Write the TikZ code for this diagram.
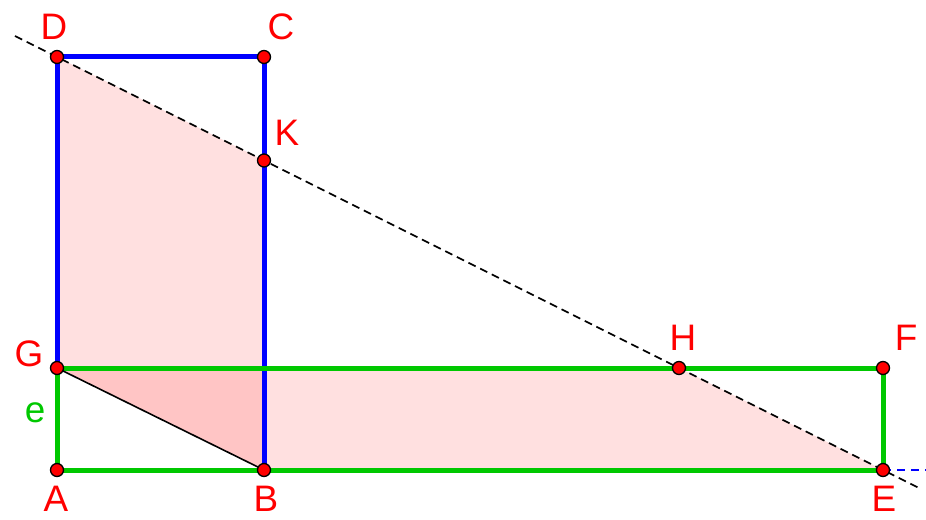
\documentclass[tikz,border=0pt]{standalone}
\usepackage{fontspec}
\setmainfont{Liberation Sans}
\begin{document}
\begin{tikzpicture}[x=1bp,y=-1bp,
  blueseg/.style={draw={rgb,255:red,0;green,0;blue,255},line width=5bp},
  greenseg/.style={draw={rgb,255:red,0;green,200;blue,0},line width=5bp},
  pt/.style={circle,fill=red,draw=black,line width=1.3bp,inner sep=0pt,minimum size=13bp},
  lbl/.style={text=red,font=\fontsize{37}{40}\selectfont,inner sep=0pt},
  shade/.style={fill=red,fill opacity=0.12,draw=none}]
\useasboundingbox (0,0) rectangle (926,520);
% points
\coordinate (D) at (57,57);
\coordinate (C) at (264,57);
\coordinate (K) at (264,160.5);
\coordinate (G) at (57,368);
\coordinate (H) at (679,368);
\coordinate (F) at (883,368);
\coordinate (A) at (57,470);
\coordinate (B) at (264,470);
\coordinate (E) at (883,470);
\coordinate (L1) at (15,36);
\coordinate (L2) at (920,488.5);
\coordinate (Bl) at (926,470);
% fills
\fill[shade] (D) -- (K) -- (B) -- (G) -- cycle;
\fill[shade] (G) -- (H) -- (E) -- (B) -- cycle;
% blue rectangle
\draw[blueseg] (G) -- (D) -- (C) -- (B);
% green rectangle
\draw[greenseg] (A) -- (E) -- (F) -- (G) -- cycle;
% diagonal
\draw[black,line width=1.6bp] (G) -- (B);
% dashed line
\draw[black,line width=1.6bp,dash pattern=on 8bp off 5bp] (L1) -- (L2);
\draw[blue,line width=1.3bp,dash pattern=on 8bp off 6bp] (E) -- (Bl);
% point markers
\foreach \p in {D,C,K,G,H,F,A,B,E} \node[pt] (p\p) at (\p) {};
% labels
\node[lbl] (tD) at (54,27) {D};
\node[lbl] (tC) at (281,27) {C};
\node[lbl] (tK) at (287,133) {K};
\node[lbl] (tG) at (29,354) {G};
\node[lbl,text={rgb,255:red,0;green,200;blue,0}] (te) at (35,413) {e};
\node[lbl] (tA) at (56,499) {A};
\node[lbl] (tB) at (266,499) {B};
\node[lbl] (tH) at (683,338) {H};
\node[lbl] (tF) at (906,338) {F};
\node[lbl] (tE) at (884,499) {E};
\end{tikzpicture}
\end{document}
